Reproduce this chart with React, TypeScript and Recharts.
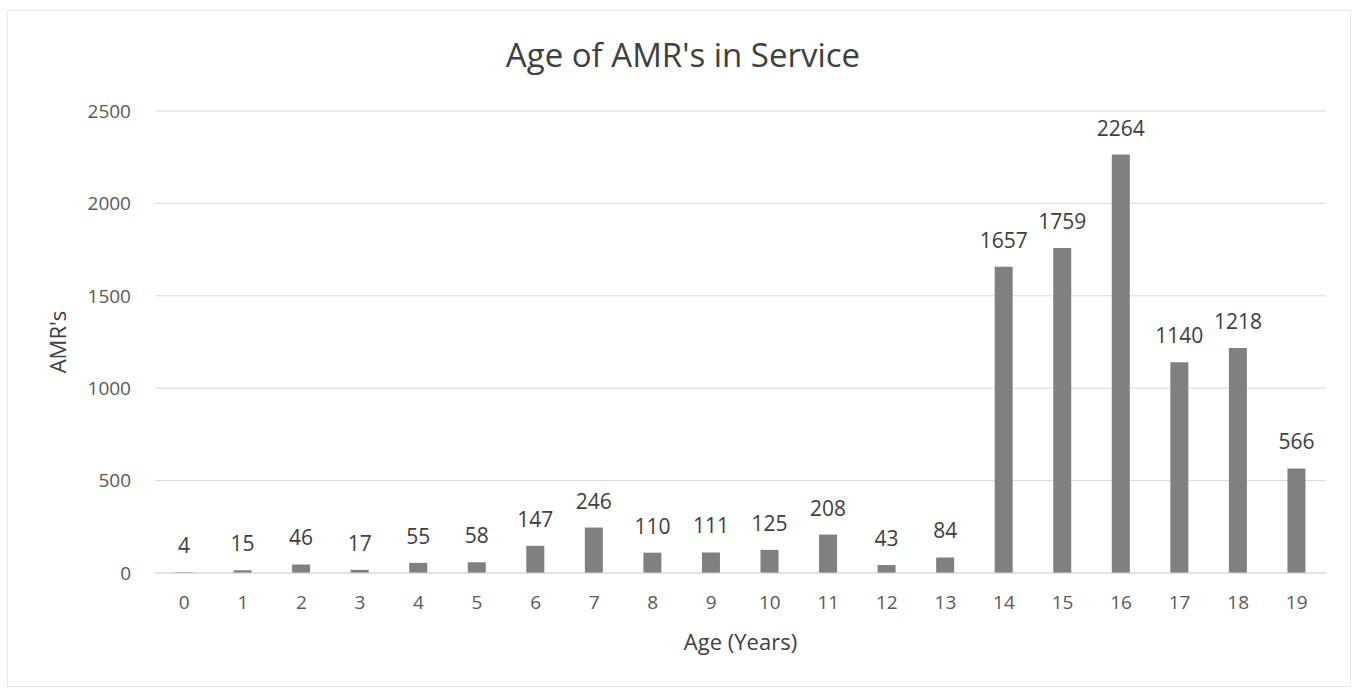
import { BarChart, Bar, XAxis, YAxis, CartesianGrid, LabelList } from 'recharts';

const ages = ['0', '1', '2', '3', '4', '5', '6', '7', '8', '9', '10', '11', '12', '13', '14', '15', '16', '17', '18', '19'];
const amrCounts = [4, 15, 46, 17, 55, 58, 147, 246, 110, 111, 125, 208, 43, 84, 1657, 1759, 2264, 1140, 1218, 566];
const yTicks = [0, 500, 1000, 1500, 2000, 2500];

const data = ages.map((age, i) => ({ age, count: amrCounts[i] }));

const FONT = '"Open Sans", "Noto Sans", sans-serif';

export default function App() {
  return (
    <div style={{ position: 'absolute', left: 0, top: 0, width: 1354, height: 688, background: '#fff', fontFamily: FONT }}>
      <div
        style={{
          position: 'absolute', left: 7, top: 10, width: 1342, height: 675,
          border: '1px solid #e8e8e8',
        }}
      />
      <div
        style={{
          position: 'absolute', left: 0, top: 32, width: 1366, textAlign: 'center',
          fontSize: 33, color: '#404040',
        }}
      >
        Age of AMR's in Service
      </div>
      <div style={{ position: 'absolute', left: 0, top: 0 }}>
        <BarChart
          width={1354}
          height={688}
          data={data}
          margin={{ top: 111, right: 28, bottom: 35, left: 95 }}
        >
          <CartesianGrid vertical={false} stroke="#d9d9d9" />
          <XAxis
            dataKey="age"
            height={80}
            axisLine={{ stroke: '#d9d9d9' }}
            tickLine={false}
            tickSize={0}
            tickMargin={23}
            tick={{ fontSize: 19, fill: '#595959', fontFamily: FONT }}
            label={{ value: 'Age (Years)', position: 'insideBottom', offset: 3, fontSize: 22, fill: '#404040', fontFamily: FONT }}
          />
          <YAxis
            width={60}
            domain={[0, 2500]}
            ticks={yTicks}
            axisLine={false}
            tickLine={false}
            tickSize={0}
            tickMargin={24}
            tick={{ fontSize: 19, fill: '#595959', fontFamily: FONT }}
            label={{ value: "AMR's", angle: -90, position: 'insideLeft', offset: -37, textAnchor: 'middle', fontSize: 22, fill: '#404040', fontFamily: FONT }}
          />
          <Bar dataKey="count" fill="#808080" barSize={18} isAnimationActive={false}>
            <LabelList dataKey="count" position="top" offset={19} style={{ fontSize: 21, fill: '#404040', fontFamily: FONT }} />
          </Bar>
        </BarChart>
      </div>
    </div>
  );
}
